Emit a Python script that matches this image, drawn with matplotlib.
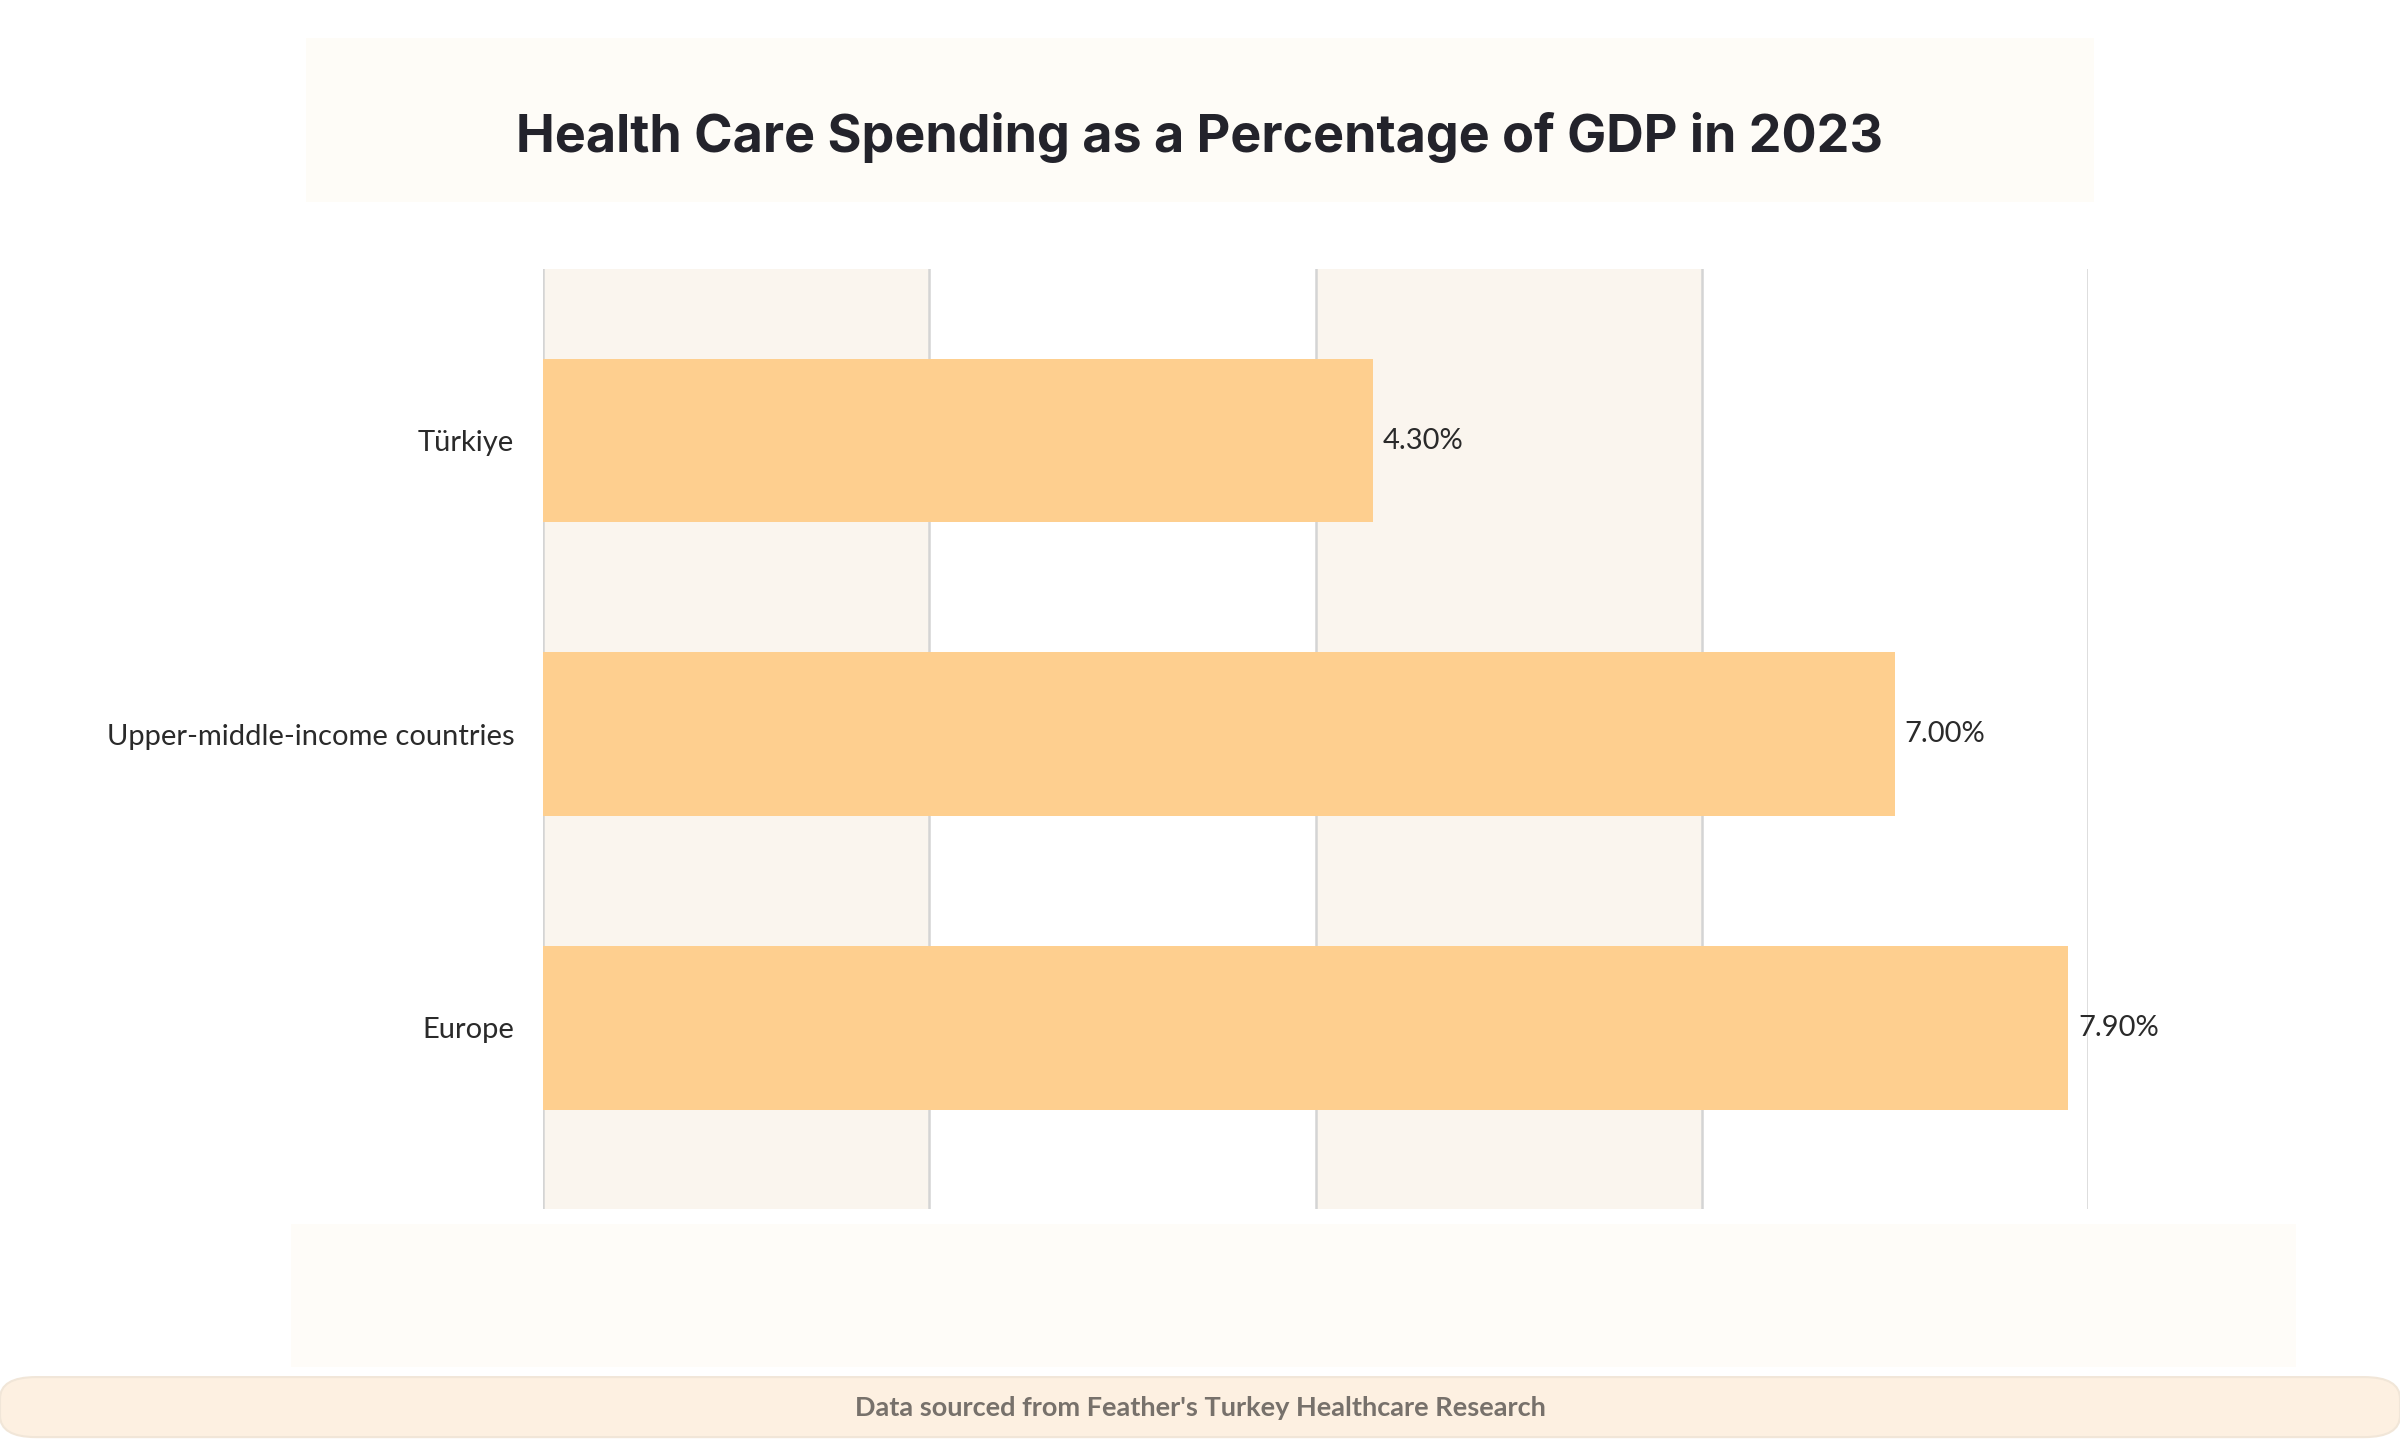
import matplotlib
matplotlib.use("Agg")
import matplotlib.pyplot as plt
from matplotlib.patches import Rectangle, FancyBboxPatch

categories = ["Türkiye", "Upper-middle-income countries", "Europe"]
values = [4.3, 7.0, 7.9]
ticks = [0, 2, 4, 6, 8]
tick_labels = ["0%", "2%", "4%", "6%", "8%"]

plt.rcParams['font.family'] = ['Lato', 'DejaVu Sans']
fig = plt.figure(figsize=(16, 9.6), dpi=150)
fig.patch.set_facecolor("white")

# title band
fig.patches.append(Rectangle((200/1568, 1-132/941), 1168/1568, 107/941, transform=fig.transFigure,
                             facecolor="#fefcf7", edgecolor="none", zorder=0))
fig.text(0.5, 1-90/941, "Health Care Spending as a Percentage of GDP in 2023", ha="center", va="center",
         fontsize=25, fontweight="bold", color="#23232b", family=['Inter', 'DejaVu Sans'])
# tick label band
fig.patches.append(Rectangle((190/1568, 1-893/941), 1310/1568, 93/941, transform=fig.transFigure,
                             facecolor="#fefcf8", edgecolor="none", zorder=0))
# footer
fig.patches.append(FancyBboxPatch((0, 0.002), 1, 1-898/941-0.004, boxstyle="round,pad=0,rounding_size=0.015",
                                  transform=fig.transFigure, facecolor="#fdf0e1", edgecolor="#f1e6d8", zorder=0))
fig.text(0.5, 1-920/941, "Data sourced from Feather's Turkey Healthcare Research", ha="center", va="center",
         fontsize=13, fontweight="bold", color="#77716b")

ax = fig.add_axes([355/1568, 1-790/941, 1009/1568, 614/941])
ax.set_facecolor("none")
ax.set_xlim(0, 8)
ax.set_ylim(2.617, -0.583)
for i in range(0, 8, 4):
    ax.axvspan(ticks[i//2*2//2*1] if False else i, i+2, color="#faf5ee", zorder=0, lw=0)
for t in ticks:
    ax.axvline(t, color="#d4d4d4", lw=1.2, zorder=1)
y = list(range(len(categories)))
ax.barh(y, values, height=0.557, color="#fecf8f", zorder=2)
for yi, v in zip(y, values):
    ax.text(v + 0.05, yi, f"{v:.2f}%", va="center", ha="left", fontsize=14, color="#2a2a2a")
ax.set_yticks(y)
ax.set_yticklabels(categories, fontsize=14, color="#2a2a2a")
ax.set_xticks(ticks)
ax.set_xticklabels(tick_labels, fontsize=14, color="#2a2a2a")
ax.tick_params(length=0, axis="y", pad=14)
ax.tick_params(length=0, axis="x", pad=22)
for s in ax.spines.values():
    s.set_visible(False)

fig.savefig("out.png", dpi=150)
